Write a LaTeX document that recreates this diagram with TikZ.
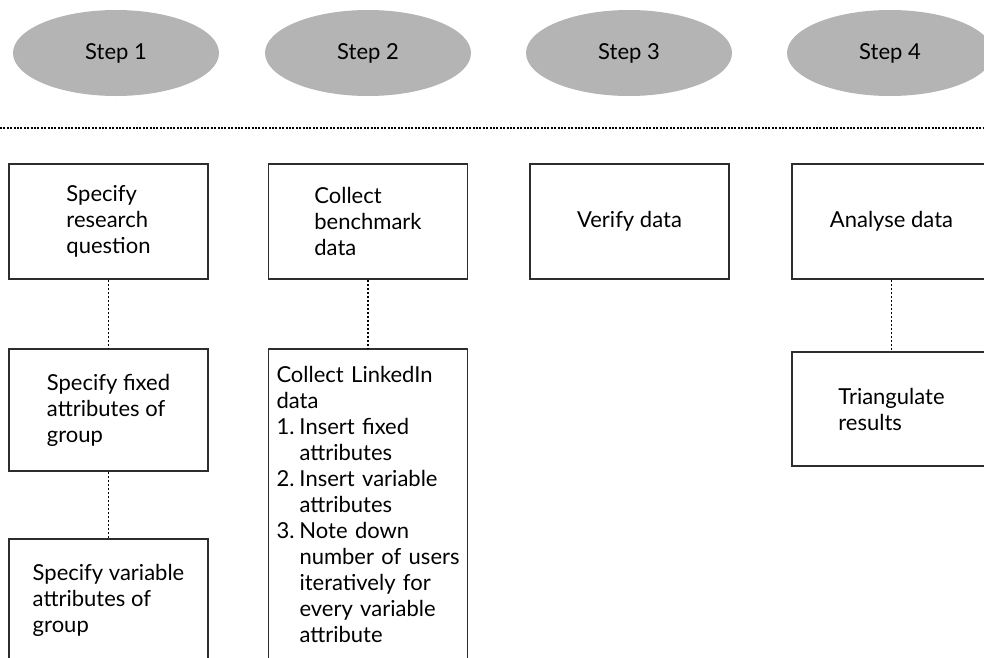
\documentclass[tikz,border=0pt]{standalone}
\usepackage{fontspec}
\setmainfont{Lato}
\usetikzlibrary{shapes.geometric}
\definecolor{ellgray}{RGB}{180,180,180}
\definecolor{boxline}{RGB}{45,45,45}
\begin{document}
\begin{tikzpicture}[x=1pt,y=-1pt,
  every node/.style={font=\fontsize{22}{26}\selectfont},
  stepoval/.style={ellipse,fill=ellgray,draw=none,minimum width=206pt,minimum height=86pt,inner sep=0pt},
  taskbox/.style={rectangle,draw=boxline,line width=1.2pt,minimum width=199pt,align=left,inner sep=8pt},
  conn/.style={draw=black,line width=1.6pt,dash pattern=on 2pt off 2pt},
  hline/.style={draw=black,line width=1.2pt,dash pattern=on 2pt off 1.4pt}]
\useasboundingbox (0,0) rectangle (984,657);
\clip (0,0) rectangle (984,657);
% step ellipses
\node[stepoval] (s1) at (116,53) {Step 1};
\node[stepoval] (s2) at (368,53) {Step 2};
\node[stepoval] (s3) at (629,53) {Step 3};
\node[stepoval] (s4) at (890,53) {Step 4};
% separator
\coordinate (hl) at (0,128);
\coordinate (hr) at (984,128);
\draw[hline] (hl) -- (hr);
% column 1
\node[taskbox,minimum height=115pt] (a1) at (108.5,221.5) {Specify\\research\\question};
\node[taskbox,minimum height=122pt] (a2) at (108.5,410) {Specify fixed\\attributes of\\group};
\node[taskbox,minimum height=122pt] (a3) at (108.5,600) {Specify variable\\attributes of\\group};
% column 2
\node[taskbox,minimum height=310pt,text width=183pt] (b2) at (368,504) {\mbox{Collect LinkedIn}\\data\\\makebox[23pt][l]{1.}\mbox{Insert fixed}\\\hspace*{23pt}attributes\\\makebox[23pt][l]{2.}\mbox{Insert variable}\\\hspace*{23pt}attributes\\\makebox[23pt][l]{3.}\mbox{Note down}\\\hspace*{23pt}\mbox{number of users}\\\hspace*{23pt}\mbox{iteratively for}\\\hspace*{23pt}\mbox{every variable}\\\hspace*{23pt}attribute};
\node[taskbox,minimum height=115pt] (b1) at (368,221.5) {Collect\\benchmark\\data};
% column 3
\node[taskbox,minimum height=115pt] (c1) at (629.5,221.5) {Verify data};
% column 4
\node[taskbox,minimum height=115pt] (d1) at (891.5,221.5) {Analyse data};
\node[taskbox,minimum height=114pt] (d2) at (891.5,409) {Triangulate\\results};
% connectors
\draw[conn] (a1.south) -- (a2.north);
\draw[conn] (a2.south) -- (a3.north);
\draw[conn] (b1.south) -- (b2.north);
\draw[conn] (d1.south) -- (d2.north);
\end{tikzpicture}
\end{document}
